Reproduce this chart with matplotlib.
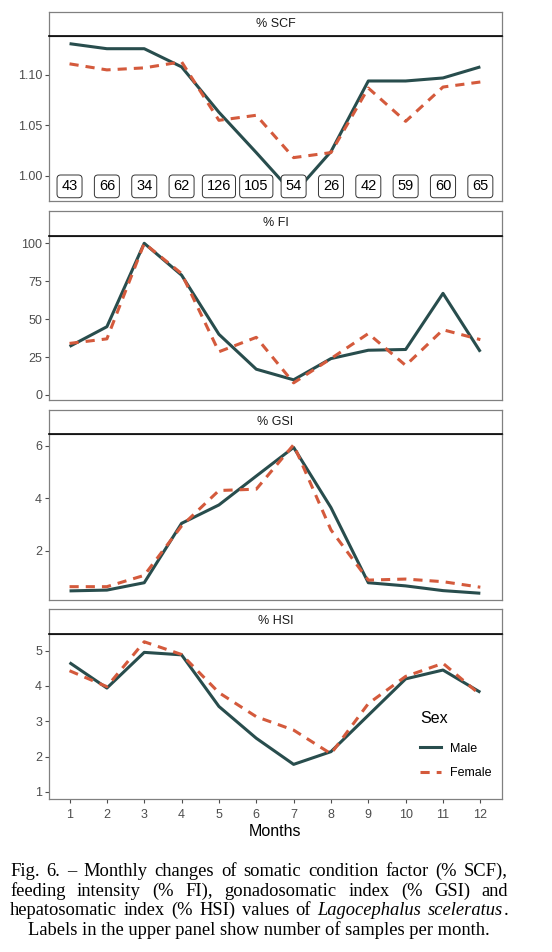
import numpy as np
import matplotlib.pyplot as plt
from matplotlib.lines import Line2D

# Data
months = np.arange(1, 13)
n_samples = [43, 66, 34, 62, 126, 105, 54, 26, 42, 59, 60, 65]

scf_male = [1.131, 1.126, 1.126, 1.108, 1.063, 1.023, 0.982, 1.024, 1.094, 1.094, 1.097, 1.108]
scf_female = [1.111, 1.105, 1.107, 1.113, 1.055, 1.060, 1.018, 1.023, 1.087, 1.054, 1.088, 1.093]

fi_male = [32, 45, 100, 79, 40, 17, 10, 24, 29.5, 30, 67, 28.5]
fi_female = [34, 37, 100, 80, 28.5, 38, 8, 24, 40.5, 19.5, 43, 36.5]

gsi_male = [0.48, 0.51, 0.79, 3.05, 3.75, 4.85, 5.94, 3.65, 0.79, 0.67, 0.49, 0.39]
gsi_female = [0.64, 0.64, 1.07, 2.95, 4.3, 4.35, 6.04, 2.8, 0.89, 0.93, 0.83, 0.62]

hsi_male = [4.66, 3.94, 4.95, 4.88, 3.42, 2.52, 1.78, 2.14, 3.17, 4.20, 4.45, 3.82]
hsi_female = [4.43, 3.98, 5.25, 4.89, 3.81, 3.13, 2.75, 2.08, 3.5, 4.27, 4.64, 3.75]

panel_titles = ["% SCF", "% FI", "% GSI", "% HSI"]
male_series = [scf_male, fi_male, gsi_male, hsi_male]
female_series = [scf_female, fi_female, gsi_female, hsi_female]
ylims = [(0.975, 1.1386), (-3.3, 104.8), (0.133, 6.45), (0.80, 5.47)]
yticks = [[1.00, 1.05, 1.10], [0, 25, 50, 75, 100], [2, 4, 6], [1, 2, 3, 4, 5]]
yfmt = ["{:.2f}", "{:.0f}", "{:.0f}", "{:.0f}"]

male_col = "#284d4d"
female_col = "#d45a3c"
frame_col = "#808080"
tick_col = "#4d4d4d"

plt.rcParams['font.family'] = ['Liberation Sans', 'DejaVu Sans']

W, H = 552, 952
fig = plt.figure(figsize=(W / 100, H / 100), dpi=100)

# panel boxes in pixels: (top, bottom) of plot area and strip top
panels_px = [(36, 201, 12), (236, 400, 211), (434, 600, 410), (634, 799, 609)]
left_px, right_px = 49, 502

axes = []
for i, (top, bot, stop) in enumerate(panels_px):
    ax = fig.add_axes([left_px / W, 1 - bot / H, (right_px - left_px) / W, (bot - top) / H])
    ax.plot(months, male_series[i], color=male_col, lw=2.2, solid_capstyle='butt', zorder=3)
    ax.plot(months, female_series[i], color=female_col, lw=2.2, ls=(0, (3, 2.3)), zorder=3)
    ax.set_xlim(0.45, 12.58)
    ax.set_ylim(*ylims[i])
    ax.set_yticks(yticks[i])
    ax.set_yticklabels([yfmt[i].format(v) for v in yticks[i]])
    for s in ax.spines.values():
        s.set_color(frame_col)
        s.set_linewidth(0.9)
    ax.tick_params(axis='both', color=tick_col, labelcolor=tick_col, labelsize=9,
                   length=3, width=0.8, pad=2)
    ax.tick_params(axis='x', pad=4)
    ax.set_xticks(months)
    if i < 3:
        ax.tick_params(axis='x', bottom=False, labelbottom=False)
    # strip
    sax = fig.add_axes([left_px / W, 1 - top / H, (right_px - left_px) / W, (top - stop) / H])
    sax.set_xticks([])
    sax.set_yticks([])
    for s in sax.spines.values():
        s.set_color(frame_col)
        s.set_linewidth(0.9)
    sax.spines['bottom'].set_color('black')
    sax.spines['bottom'].set_linewidth(1.2)
    sax.text(0.5, 0.5, panel_titles[i], ha='center', va='center', fontsize=9,
             color='#1a1a1a', transform=sax.transAxes)
    axes.append(ax)

# sample size labels in top panel
for m, n in zip(months, n_samples):
    axes[0].text(m, 0.9895, str(n), ha='center', va='center', fontsize=10.5, color='black',
                 zorder=5,
                 bbox=dict(boxstyle='round,pad=0.3,rounding_size=0.25', fc='white',
                           ec='#333333', lw=0.7))

axes[3].set_xlabel("Months", fontsize=11.5, color='black', labelpad=2)

handles = [Line2D([], [], color=male_col, lw=2.2),
           Line2D([], [], color=female_col, lw=2.2, ls=(0, (3, 2.3)))]
leg = axes[3].legend(handles, ["Male", "Female"], title="Sex", frameon=False,
                     loc='upper left', bbox_to_anchor=(0.805, 0.57), borderpad=0,
                     fontsize=9, title_fontsize=11.5, handlelength=1.7,
                     handletextpad=0.7, labelspacing=1.0)
leg._legend_box.align = "left"
leg._legend_box.sep = 12

# caption, justified lines
caption = [
    [("Fig.", 'normal'), ("6.", 'normal'), ("\u2013", 'normal'), ("Monthly", 'normal'),
     ("changes", 'normal'), ("of", 'normal'), ("somatic", 'normal'), ("condition", 'normal'),
     ("factor", 'normal'), ("(%", 'normal'), ("SCF),", 'normal')],
    [("feeding", 'normal'), ("intensity", 'normal'), ("(%", 'normal'), ("FI),", 'normal'),
     ("gonadosomatic", 'normal'), ("index", 'normal'), ("(%", 'normal'), ("GSI)", 'normal'),
     ("and", 'normal')],
    [("hepatosomatic", 'normal'), ("index", 'normal'), ("(%", 'normal'), ("HSI)", 'normal'),
     ("values", 'normal'), ("of", 'normal'), ("Lagocephalus", 'italic'),
     ("sceleratus", 'italic'), (".", 'normal')],
]
last_line = "Labels in the upper panel show number of samples per month."
cap_left, cap_right = 10, 508
cap_y = [871.5, 891, 910.5]
cap_size = 13.3
renderer = fig.canvas.get_renderer()
for line, ypx in zip(caption, cap_y):
    texts = []
    for word, style in line:
        t = fig.text(0, 1 - ypx / H, word, fontsize=cap_size, family='Liberation Serif',
                     style=style, va='center', ha='left')
        texts.append(t)
    widths = [t.get_window_extent(renderer).width for t in texts]
    # the final period sticks to the italic word
    nat_gaps = len(texts) - 1
    if line[-1][0] == ".":
        nat_gaps -= 1
    gap = (cap_right - cap_left - sum(widths)) / nat_gaps
    x = cap_left
    for k, t in enumerate(texts):
        t.set_x(x / W)
        x += widths[k]
        if k + 1 < len(texts) and not (line[k + 1][0] == "."):
            x += gap
fig.text((cap_left + cap_right) / 2 / W, 1 - 930.5 / H, last_line, fontsize=cap_size,
         family='Liberation Serif', ha='center', va='center')

fig.savefig("out.png", dpi=100)
